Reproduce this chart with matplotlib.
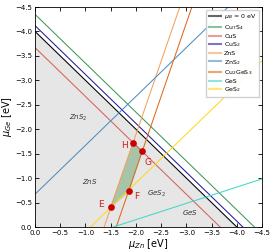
import numpy as np
import matplotlib
matplotlib.use('Agg')
import matplotlib.pyplot as plt
from matplotlib.lines import Line2D

# boundary lines: mu_Ge = slope * mu_Zn + intercept
names = [r'$\mu_B$ = 0 eV', r'Cu$_7$S$_4$', 'CuS', r'CuS$_2$', 'ZnS', r'ZnS$_2$',
         r'Cu$_2$GeS$_3$', 'GeS', r'GeS$_2$']
slopes = [-1.0, -1.0, -1.0, -1.0, 3.0, 1.0, 3.0, 1.0 / 3.0, 1.0]
intercepts = [-4.0, -4.35, -3.67, -4.12, 4.11, -0.67, 4.83, 0.517, 1.1]
colors = ['black', '#3a9a5a', '#d9605a', '#1c1c9c', '#f5a05a', '#4a8ec8',
          '#dc6a1c', '#40d8c8', '#ffd820']

# corner points of the stable region
pt_names = ['E', 'F', 'G', 'H']
pt_x = [-1.50, -1.86, -2.12, -1.95]
pt_y = [-0.40, -0.74, -1.555, -1.72]

# phase labels
ph_names = [r'$ZnS_2$', r'$ZnS$', r'$GeS_2$', r'$GeS$']
ph_x = [-0.85, -1.09, -2.40, -3.07]
ph_y = [-2.23, -0.93, -0.68, -0.29]

plt.rcParams['font.size'] = 5
fig = plt.figure(figsize=(2.74, 2.52), dpi=100)
ax = fig.add_axes([35 / 274, 25 / 252, 227 / 274, 220 / 252])

ax.fill([0, -4.0, 0], [0, 0, -4.0], color='#e6e6e6', zorder=0)
ax.fill([pt_x[0], pt_x[3], pt_x[2], pt_x[1]], [pt_y[0], pt_y[3], pt_y[2], pt_y[1]],
        color='#a8c4a8', zorder=1)

xx = np.linspace(0.5, -5.0, 200)
handles = []
for n, s, b, c in zip(names, slopes, intercepts, colors):
    ax.plot(xx, s * xx + b, color=c, lw=0.75, zorder=2)
    handles.append(Line2D([], [], color=c, lw=1.5, alpha=0.6, label=n))

ax.plot(pt_x, pt_y, 'o', color='#cc0000', ms=3.8, zorder=4)
offs = {'E': (-9, 2), 'F': (4, -4), 'G': (2, -8), 'H': (-9, -2)}
for n, x, y in zip(pt_names, pt_x, pt_y):
    ax.annotate(n, (x, y), xytext=offs[n], textcoords='offset points',
                color='#cc2020', fontsize=6.5, va='center')

for n, x, y in zip(ph_names, ph_x, ph_y):
    ax.text(x, y, n, fontsize=5, ha='center', va='center', color='#333333')

ax.set_xlim(0, -4.5)
ax.set_ylim(0, -4.5)
ax.set_xticks(np.arange(0, -4.51, -0.5))
ax.set_yticks(np.arange(0, -4.51, -0.5))
ax.tick_params(direction='in', top=True, right=True, length=3, width=0.6, pad=2)
for sp in ax.spines.values():
    sp.set_linewidth(0.6)
ax.set_xlabel(r'$\mu_{Zn}$ [eV]', fontsize=7, labelpad=1)
ax.set_ylabel(r'$\mu_{Ge}$ [eV]', fontsize=7, labelpad=1)

ax.legend(handles=handles, loc='upper right', fontsize=4.5, handlelength=2.0,
          labelspacing=0.25, borderpad=0.35, handletextpad=0.5, framealpha=0.9,
          fancybox=False, edgecolor='#cccccc')

fig.savefig('out.png', dpi=100)
